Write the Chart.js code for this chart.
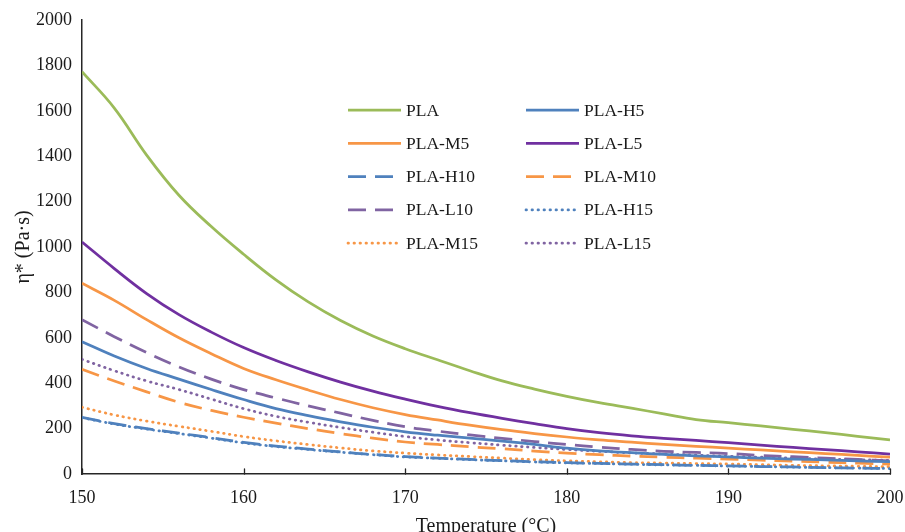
<!DOCTYPE html>
<html>
<head>
<meta charset="utf-8">
<script src="https://cdn.jsdelivr.net/npm/chart.js@4"></script>
<style>
  body { margin: 0; background: #fff; }
  #wrap { width: 905px; height: 532px; }
</style>
</head>
<body>
<div id="wrap"><canvas id="myChart" width="905" height="532"></canvas></div>
<script>
// temperatures (°C)
const temps = [150,152,154,156,158,160,162,164,166,168,170,172,174,176,178,180,182,184,186,188,190,192,194,196,198,200];

// complex viscosity η* (Pa·s)
const PLA    = [1772,1612,1405,1228,1090,968,855,758,676,608,552,503,455,410,374,342,314,290,265,240,226,212,197,182,166,150];
const PLA_H5 = [583,520,465,418,372,328,288,257,230,206,186,171,158,145,130,114,102,94,86,80,75,70,66,62,58,54];
const PLA_M5 = [840,765,680,600,530,465,415,370,328,292,262,238,215,195,178,163,150,140,130,122,114,106,98,90,82,74];
const PLA_L5 = [1022,905,795,702,625,557,500,450,405,365,330,298,270,245,222,200,182,168,157,148,138,127,117,107,98,88];
const PLA_H10 = [250,222,200,180,160,139,123,110,97,86,77,70,64,59,54,50,47,44,41,38,36,33,31,28,26,24];
const PLA_M10 = [461,410,362,316,280,250,224,200,178,158,141,130,120,111,101,92,85,79,74,70,66,61,57,52,48,44];
const PLA_L10 = [680,605,535,472,418,372,335,300,268,236,208,189,172,157,143,130,118,108,100,95,90,82,76,70,64,58];
const PLA_H15 = [248,220,198,178,158,137,121,108,96,85,75,69,63,58,53,49,46,43,40,38,35,33,30,28,26,24];
const PLA_M15 = [294,260,233,210,188,165,146,130,115,102,92,84,77,70,63,58,54,50,48,46,44,41,38,36,34,32];
const PLA_L15 = [505,455,410,372,330,288,254,228,205,184,165,150,138,127,117,108,100,93,88,83,78,74,70,66,63,60];

const xTicks = [150,160,170,180,190,200];

const DASH = [18, 9];
const DOT = [0.5, 5.5];

function pts(vals) {
  return vals.map((v, i) => ({ x: temps[i], y: v }));
}

function series(label, vals, color, dash) {
  return {
    label: label,
    data: pts(vals),
    borderColor: color,
    backgroundColor: color,
    borderWidth: 2.75,
    borderDash: dash || [],
    borderCapStyle: dash === DOT ? 'round' : 'butt',
    pointRadius: 0,
    tension: 0.4,
    fill: false
  };
}

const serif = 'Liberation Serif, Times New Roman, serif';

// legend drawn inside the plot, two columns
const boxLegend = {
  id: 'boxLegend',
  afterDraw(chart) {
    const ctx = chart.ctx;
    const cols = [348, 526];
    ctx.save();
    chart.data.datasets.forEach((ds, i) => {
      const x0 = cols[i % 2];
      const y = 110 + Math.floor(i / 2) * 33.3;
      ctx.beginPath();
      ctx.strokeStyle = ds.borderColor;
      ctx.lineWidth = ds.borderWidth;
      ctx.setLineDash(ds.borderDash);
      ctx.lineCap = ds.borderCapStyle;
      ctx.moveTo(x0, y);
      ctx.lineTo(x0 + 53, y);
      ctx.stroke();
      ctx.setLineDash([]);
      ctx.fillStyle = '#1a1a1a';
      ctx.font = '17.5px ' + serif;
      ctx.textBaseline = 'middle';
      ctx.fillText(ds.label, x0 + 58, y + 1);
    });
    // small inward tick marks on the x axis
    const xs = chart.scales.x;
    const bottom = chart.chartArea.bottom;
    ctx.strokeStyle = '#262626';
    ctx.lineWidth = 1.3;
    xTicks.forEach(v => {
      const px = Math.round(xs.getPixelForValue(v)) + 0.5;
      ctx.beginPath();
      ctx.moveTo(px, bottom);
      ctx.lineTo(px, bottom - 5);
      ctx.stroke();
    });
    ctx.restore();
  }
};

new Chart(document.getElementById('myChart').getContext('2d'), {
  type: 'line',
  data: {
    datasets: [
      series('PLA', PLA, '#9BBB59'),
      series('PLA-H5', PLA_H5, '#4F81BD'),
      series('PLA-M5', PLA_M5, '#F79646'),
      series('PLA-L5', PLA_L5, '#7030A0'),
      series('PLA-H10', PLA_H10, '#4F81BD', DASH),
      series('PLA-M10', PLA_M10, '#F79646', DASH),
      series('PLA-L10', PLA_L10, '#8064A2', DASH),
      series('PLA-H15', PLA_H15, '#4F81BD', DOT),
      series('PLA-M15', PLA_M15, '#F79646', DOT),
      series('PLA-L15', PLA_L15, '#8064A2', DOT)
    ]
  },
  options: {
    responsive: false,
    animation: false,
    layout: { padding: { top: 20, right: 15, left: 0, bottom: 0 } },
    plugins: {
      legend: { display: false },
      tooltip: { enabled: false }
    },
    scales: {
      x: {
        type: 'linear',
        min: 150,
        max: 200,
        afterFit: s => { s.height = 58; s.paddingLeft = 0; s.paddingRight = 0; },
        afterBuildTicks: s => { s.ticks = xTicks.map(v => ({ value: v })); },
        grid: { display: false, drawTicks: false },
        border: { display: true, color: '#262626', width: 1.5 },
        ticks: { color: '#1a1a1a', font: { family: serif, size: 18 }, padding: 13, callback: v => String(v) },
        title: {
          display: true,
          text: 'Temperature (°C)',
          color: '#1a1a1a',
          font: { family: serif, size: 20 },
          padding: { top: 0, bottom: -7 }
        }
      },
      y: {
        min: 0,
        max: 2000,
        afterFit: s => { s.width = 82; s.paddingTop = 0; s.paddingBottom = 0; },
        grid: { display: false, drawTicks: false },
        border: { display: true, color: '#262626', width: 1.5 },
        ticks: { stepSize: 200, color: '#1a1a1a', font: { family: serif, size: 18 }, padding: 10, callback: v => String(v) },
        title: {
          display: true,
          text: 'η* (Pa·s)',
          color: '#1a1a1a',
          font: { family: serif, size: 20 },
          padding: { top: 12, bottom: 0 }
        }
      }
    }
  },
  plugins: [boxLegend]
});
</script>
</body>
</html>
